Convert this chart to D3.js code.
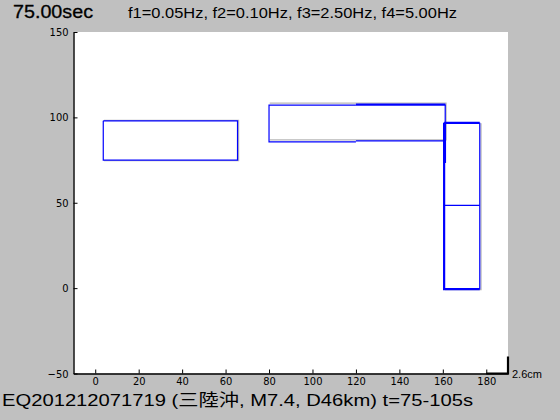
<!DOCTYPE html>
<html><head><meta charset="utf-8">
<script src="https://cdn.jsdelivr.net/npm/d3@7"></script>
<style>
html,body{margin:0;padding:0;background:#c0c0c0;}
svg{display:block;}
</style></head>
<body>
<svg id="c" width="560" height="420"></svg>
<script>
// ---- data ----
const timeLabel = "75.00sec";
const freqLabel = "f1=0.05Hz, f2=0.10Hz, f3=2.50Hz, f4=5.00Hz";
const eqLabel = "EQ201212071719 (三陸沖, M7.4, D46km) t=75-105s";
const scaleLabel = "2.6cm";
const xDomain = [-10, 190];
const yDomain = [-50, 150];
const xTicks = [0, 20, 40, 60, 80, 100, 120, 140, 160, 180];
const yTicks = [-50, 0, 50, 100, 150];
// gray (previous) outlines, data units
const grayPaths = [
  [[4.0, 98.2], [66.0, 98.2], [66.0, 74.6], [4.0, 74.6]],
  [[80.3, 108.3], [161.5, 108.3], [161.5, 86.8], [80.3, 86.8]],
  [[177.6, 96.6], [177.6, -0.9], [161.0, -0.9]]
];
// blue (current) outlines, thin strokes
const blueThin = [
  [[3.7, 98.0], [65.5, 98.0], [65.5, 75.0], [3.7, 75.0], [3.7, 98.0]],
  [[120.0, 107.2], [80.0, 107.2], [80.0, 85.6], [120.0, 85.6]],
  [[120.0, 86.2], [160.8, 86.2]],
  [[161.1, 107.5], [161.1, 96.8]],
  [[177.0, 96.8], [177.0, -0.6]],
  [[160.6, 48.5], [177.0, 48.5]]
];
// blue, thick strokes
const blueThick = [
  [[120.0, 107.5], [161.2, 107.5]],
  [[160.6, 96.8], [160.6, -0.6], [177.0, -0.6]],
  [[160.6, 96.8], [177.0, 96.8]]
];
const blueHeavy = [
  [[160.8, 96.8], [160.8, 73.3]]
];
// scale bar (10 units)
const scaleBar = [[180, -50], [190, -50], [190, -40]];

// ---- layout ----
const svg = d3.select("#c");
const L = 73.5, R = 508, T = 32, B = 373.5;
const x = d3.scaleLinear().domain(xDomain).range([L, R]);
const y = d3.scaleLinear().domain(yDomain).range([B, T]);

svg.append("rect").attr("x", L).attr("y", T).attr("width", R - L).attr("height", B - T).attr("fill", "#fff");

const line = d3.line().x(d => x(d[0])).y(d => y(d[1]));

const g = svg.append("g");
g.selectAll(".gray").data(grayPaths).join("path")
  .attr("d", line).attr("fill", "none").attr("stroke", "#b8b8b8").attr("stroke-width", 1.2);
g.selectAll(".bt").data(blueThin).join("path")
  .attr("d", line).attr("fill", "none").attr("stroke", "#0000ff").attr("stroke-width", 1.2);
g.selectAll(".bk").data(blueThick).join("path")
  .attr("d", line).attr("fill", "none").attr("stroke", "#0000ff").attr("stroke-width", 2.2);
g.selectAll(".bh").data(blueHeavy).join("path")
  .attr("d", line).attr("fill", "none").attr("stroke", "#0000ff").attr("stroke-width", 3);

// axes
const tickFont = "'Liberation Sans Narrow','DejaVu Sans Condensed','Liberation Sans',sans-serif";
const xa = svg.append("g").attr("transform", `translate(0,${B})`)
  .call(d3.axisBottom(x).tickValues(xTicks).tickSizeInner(-4).tickSizeOuter(0).tickPadding(4));
xa.select(".domain").attr("stroke", "#000").attr("stroke-width", 1.4);
xa.selectAll("text").attr("font-family", tickFont).attr("font-size", 11).attr("fill", "#000");
const ya = svg.append("g").attr("transform", `translate(${L},0)`)
  .call(d3.axisLeft(y).tickValues(yTicks).tickSizeInner(-4).tickSizeOuter(0).tickPadding(5));
ya.select(".domain").attr("stroke", "#000").attr("stroke-width", 1.4);
ya.selectAll("text").attr("font-family", tickFont).attr("font-size", 11).attr("fill", "#000");

// scale bar
svg.append("path").datum(scaleBar).attr("d", line).attr("fill", "none")
  .attr("stroke", "#000").attr("stroke-width", 2.2);
svg.append("text").attr("x", 512).attr("y", 378).text(scaleLabel)
  .attr("font-family", "'Liberation Sans',sans-serif").attr("font-size", 11).attr("fill", "#000");

// titles
svg.append("text").attr("x", 13).attr("y", 18).text(timeLabel)
  .attr("font-family", "'Liberation Sans',sans-serif").attr("font-size", 18).attr("fill", "#000")
  .attr("stroke", "#000").attr("stroke-width", 0.3)
  .attr("textLength", 80).attr("lengthAdjust", "spacingAndGlyphs");
svg.append("text").attr("x", 128).attr("y", 18).text(freqLabel)
  .attr("font-family", "'Liberation Sans',sans-serif").attr("font-size", 15).attr("fill", "#000")
  .attr("textLength", 329).attr("lengthAdjust", "spacingAndGlyphs");
svg.append("text").attr("x", 2).attr("y", 406).text(eqLabel)
  .attr("font-family", "'Liberation Sans','Noto Sans CJK JP',sans-serif").attr("font-size", 17).attr("fill", "#000")
  .attr("textLength", 471).attr("lengthAdjust", "spacingAndGlyphs");
</script>
</body></html>
